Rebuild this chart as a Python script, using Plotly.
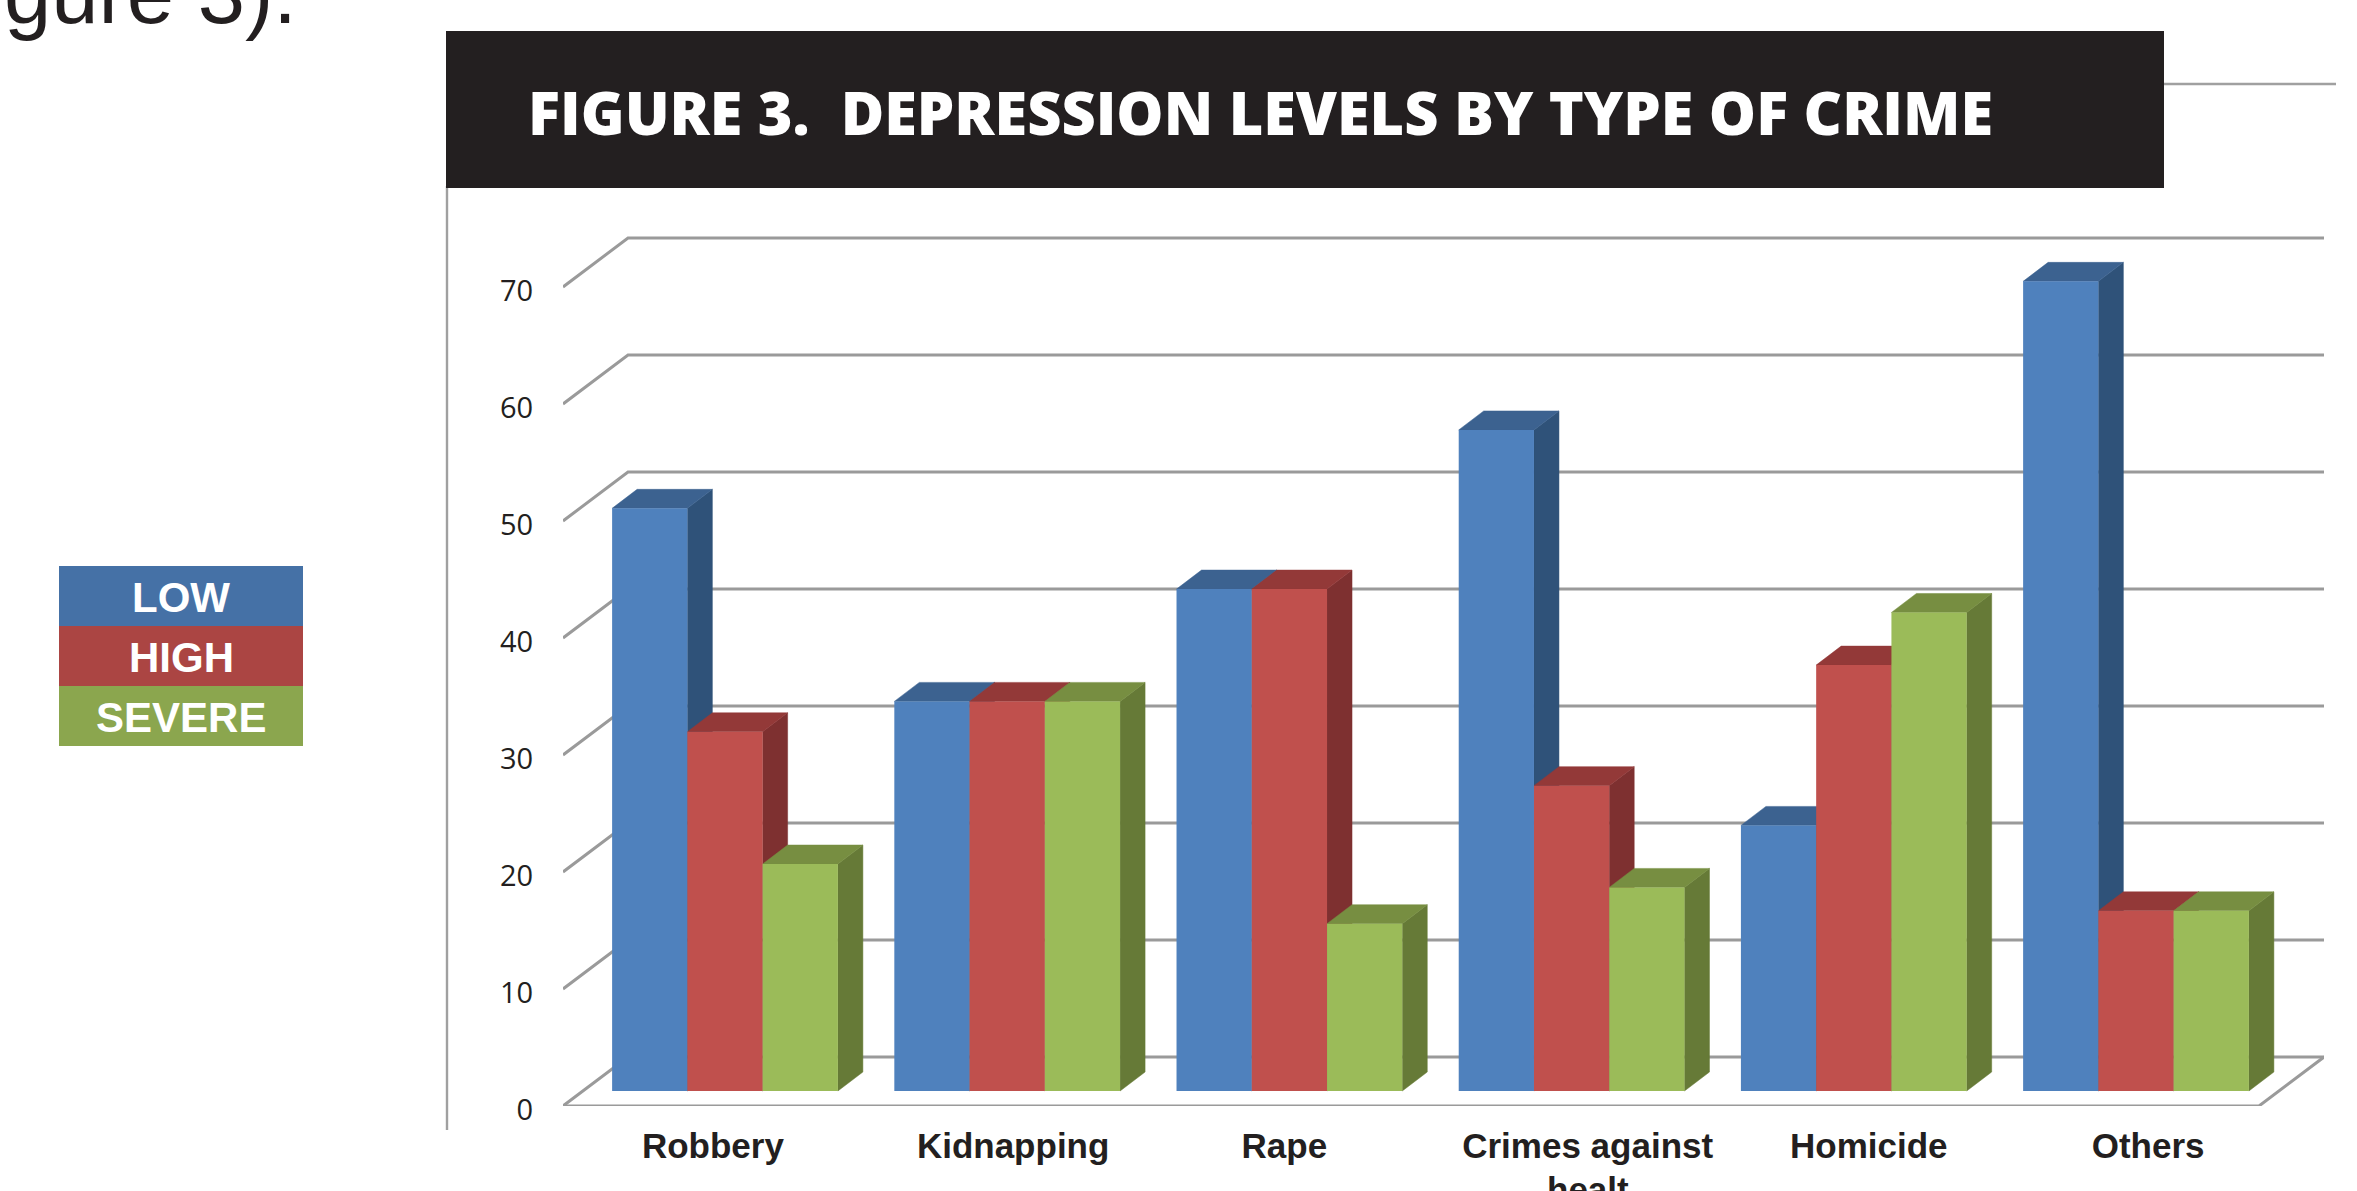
import plotly.graph_objects as go

# Survey results: share of respondents at each depression level, per type of crime
categories = ["Robbery", "Kidnapping", "Rape", "Crimes against", "Homicide", "Others"]
category_overflow = "healt"
low = [49.8, 33.3, 42.9, 56.5, 22.7, 69.2]
high = [30.7, 33.3, 42.9, 26.1, 36.4, 15.4]
severe = [19.4, 33.3, 14.3, 17.4, 40.9, 15.4]
y_ticks = [0, 10, 20, 30, 40, 50, 60, 70]
legend_labels = ["LOW", "HIGH", "SEVERE"]
title_text = "FIGURE 3.  DEPRESSION LEVELS BY TYPE OF CRIME"
fragment_text = "gure 3)."

# Page and plot geometry
W, H = 2357, 1191
PLOT_L, PLOT_R, PLOT_T, PLOT_B = 563, 2324, 230, 1106
PX_PER_GROUP = 282.2
PX_PER_UNIT = 11.7
FIRST_GROUP_PX = 725.0

X_MIN = (PLOT_L - FIRST_GROUP_PX) / PX_PER_GROUP
X_MAX = (PLOT_R - FIRST_GROUP_PX) / PX_PER_GROUP
Y_MAX = (PLOT_B - PLOT_T) / PX_PER_UNIT

# Depth of the box (wall behind the floor) and of each bar, in axis units
WALL_DX, WALL_DY = 65 / PX_PER_GROUP, 49 / PX_PER_UNIT
BAR_DX, BAR_DY = 25 / PX_PER_GROUP, 19 / PX_PER_UNIT
BAR_BASE = 15 / PX_PER_UNIT
GROUP_WIDTH = 0.8
BAR_WIDTH = GROUP_WIDTH / 3

# Category labels sit slightly off their group centres
label_offsets = [-0.043, 0.021, -0.018, 0.057, 0.053, 0.043]

FRONT = ["#4f81bd", "#c0504d", "#9bbb59"]
SIDE = ["#2f5279", "#7e3030", "#667a37"]
TOP = ["#3c6290", "#933938", "#778e41"]
LEGEND_COLORS = ["#4571a6", "#ab4543", "#8ba64e"]
GRID = "#9a9a9a"
INK = "#231f20"
series = [low, high, severe]
positions = list(range(len(categories)))
tick_positions = [p + o for p, o in zip(positions, label_offsets)]

fig = go.Figure()

# Box outline: one angled stroke plus a wall line per tick
gx, gy = [], []
for v in y_ticks:
    gx += [X_MIN, X_MIN + WALL_DX, X_MAX, None]
    gy += [v, v + WALL_DY, v + WALL_DY, None]
gx += [X_MIN, X_MAX - WALL_DX, X_MAX]
gy += [0, 0, WALL_DY]
fig.add_trace(go.Scatter(x=gx, y=gy, mode="lines", line=dict(color=GRID, width=3),
                         hoverinfo="skip", showlegend=False, cliponaxis=False))

# Side and top faces of the bars, drawn series by series so nearer faces cover farther ones
for s, values in enumerate(series):
    sx, sy, tx, ty = [], [], [], []
    for p, v in zip(positions, values):
        left = p - GROUP_WIDTH / 2 + s * BAR_WIDTH
        right = left + BAR_WIDTH
        top = BAR_BASE + v
        sx += [right, right + BAR_DX, right + BAR_DX, right, right, None]
        sy += [BAR_BASE, BAR_BASE + BAR_DY, top + BAR_DY, top, BAR_BASE, None]
        tx += [left, right, right + BAR_DX, left + BAR_DX, left, None]
        ty += [top, top, top + BAR_DY, top + BAR_DY, top, None]
    for fx, fy, color in ((sx, sy, SIDE[s]), (tx, ty, TOP[s])):
        fig.add_trace(go.Scatter(x=fx, y=fy, mode="lines", fill="toself", fillcolor=color,
                                 line=dict(color=color, width=0.5),
                                 hoverinfo="skip", showlegend=False))

# Front faces, on an overlaid pair of axes so they cover the depth faces
for s, values in enumerate(series):
    fig.add_trace(go.Bar(x=positions, y=values, base=BAR_BASE, name=legend_labels[s],
                         offsetgroup=str(s), marker=dict(color=FRONT[s], line=dict(width=0)),
                         xaxis="x2", yaxis="y2", showlegend=False))


def px(x):
    """Page pixel to horizontal paper coordinate."""
    return (x - PLOT_L) / (PLOT_R - PLOT_L)


def py(y):
    """Page pixel to vertical paper coordinate."""
    return (PLOT_B - y) / (PLOT_B - PLOT_T)


def rect(x0, y0, x1, y1, color):
    return dict(type="rect", xref="paper", yref="paper", x0=px(x0), x1=px(x1), y0=py(y1), y1=py(y0),
                fillcolor=color, line=dict(width=0))


def rule(x0, y0, x1, y1):
    return dict(type="line", xref="paper", yref="paper", x0=px(x0), x1=px(x1), y0=py(y0), y1=py(y1),
                line=dict(color="#a0a0a0", width=2.4))


shapes = [rule(447, 186, 447, 1130), rule(2160, 84, 2336, 84), rect(446, 31, 2164, 188, INK)]
legend_edges = [566, 626, 686, 746]
for i in range(3):
    shapes.append(rect(59, legend_edges[i], 303, legend_edges[i + 1], LEGEND_COLORS[i]))

annotations = [
    dict(text=title_text, xref="paper", yref="paper", x=px(526), y=py(112),
         xanchor="left", yanchor="middle", showarrow=False,
         font=dict(family="Open Sans", size=59.4, weight=800, color="white")),
    dict(text=fragment_text, xref="paper", yref="paper", x=px(2), y=py(-6),
         xanchor="left", yanchor="middle", showarrow=False,
         font=dict(family="Liberation Sans", size=85, color=INK)),
    # Second line of the long category label, set closer than tick-label line spacing allows
    dict(text="<b>" + category_overflow + "</b>", xref="x", yref="paper", x=tick_positions[3], y=py(1189),
         xanchor="center", yanchor="middle", showarrow=False,
         font=dict(family="Liberation Sans", size=35, color=INK)),
]
for i, label in enumerate(legend_labels):
    annotations.append(dict(text="<b>" + label + "</b>", xref="paper", yref="paper", x=px(181),
                            y=py((legend_edges[i] + legend_edges[i + 1]) / 2 + 1), xanchor="center",
                            yanchor="middle", showarrow=False,
                            font=dict(family="Liberation Sans", size=42, color="white")))

fig.update_layout(
    width=W, height=H, autosize=False,
    margin=dict(l=PLOT_L, r=W - PLOT_R, t=PLOT_T, b=H - PLOT_B, pad=0),
    paper_bgcolor="white", plot_bgcolor="rgba(0,0,0,0)",
    barmode="group", bargap=1 - GROUP_WIDTH, bargroupgap=0,
    showlegend=False, shapes=shapes, annotations=annotations,
    xaxis=dict(range=[X_MIN, X_MAX], showgrid=False, zeroline=False, showline=False, automargin=False,
               tickmode="array", tickvals=tick_positions,
               ticktext=["<b>" + c + "</b>" for c in categories],
               ticks="outside", ticklen=9, tickcolor="rgba(0,0,0,0)", tickangle=0,
               tickfont=dict(family="Liberation Sans", size=35, color=INK)),
    yaxis=dict(range=[0, Y_MAX], showgrid=False, zeroline=False, showline=False, automargin=False,
               tickmode="array", tickvals=y_ticks, ticktext=[str(t) for t in y_ticks],
               ticks="outside", ticklen=23, tickcolor="rgba(0,0,0,0)", ticklabelshift=4,
               tickfont=dict(family="Open Sans", size=29, color=INK)),
    xaxis2=dict(range=[X_MIN, X_MAX], overlaying="x", anchor="y2", visible=False, automargin=False),
    yaxis2=dict(range=[0, Y_MAX], overlaying="y", anchor="x2", visible=False, automargin=False),
)

fig.write_html("out.html")
